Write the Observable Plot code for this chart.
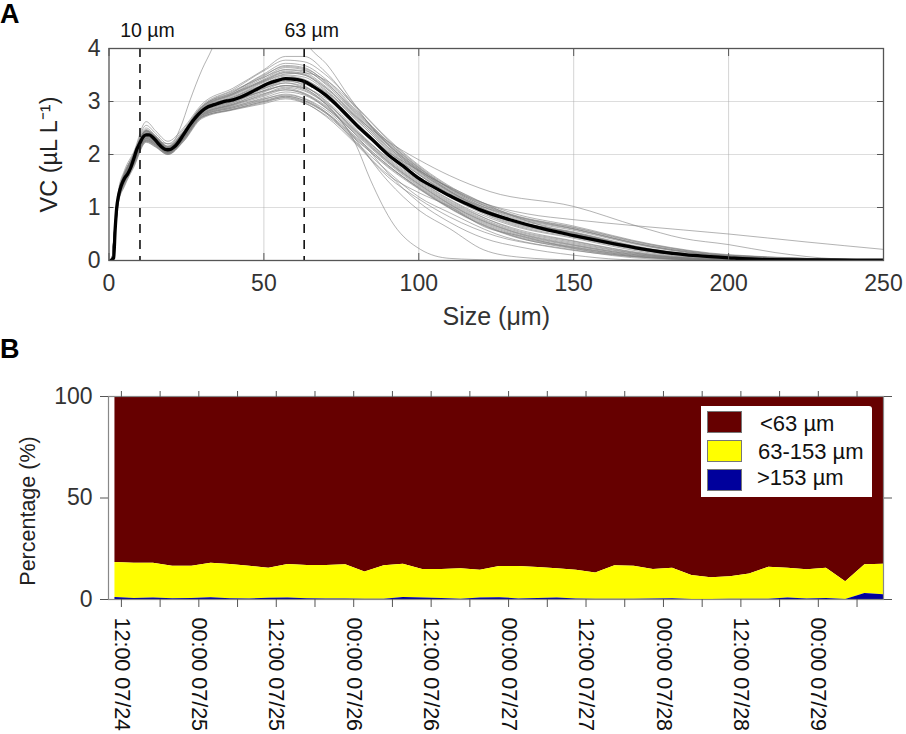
<!DOCTYPE html>
<html>
<head>
<meta charset="utf-8">
<script src="https://cdn.jsdelivr.net/npm/d3@7"></script>
<script src="https://cdn.jsdelivr.net/npm/@observablehq/plot@0.6"></script>
<style>
  html, body { margin: 0; padding: 0; background: #fff; }
  #page { position: relative; width: 906px; height: 734px; overflow: hidden; font-family: "Liberation Sans", sans-serif; }
  #page svg { display: block; position: absolute; left: 0; }
  #chart_a svg { top: 0; }
  #chart_b svg { top: 340px; }
  .panel { position: absolute; left: 0; font-weight: bold; font-size: 27px; line-height: 27px; color: #000; }
  #legend { position: absolute; left: 701px; top: 406px; width: 171px; height: 91px; background: #fff; border-radius: 0 3px 0 0; }
  #legend i { position: absolute; left: 6px; width: 35px; height: 22px; box-sizing: border-box; border: 1px solid #777; }
  #legend span { position: absolute; font-size: 22px; line-height: 24px; color: #111; white-space: nowrap; }
</style>
</head>
<body>
<div id="page">
  <div id="chart_a"></div>
  <div id="chart_b"></div>
  <div class="panel" style="top:1px">A</div>
  <div class="panel" style="top:336px">B</div>
  <div id="legend"></div>
</div>
<script>
// Panel A: spectra sizes (um)
const gridSizes = [1, 2, 3, 5, 8, 12, 15, 19, 24, 30, 40, 50, 57, 63, 70, 80, 90, 100, 115, 130, 150, 175, 200, 250];

// mean spectrum (thick black line)
const meanSizes = [0.5, 1.5, 2, 2.5, 3, 4, 5, 6, 7, 8, 9, 10, 11, 12, 13, 14, 15, 16, 17, 18, 19, 20, 21, 22, 24, 26, 28, 30, 32, 34, 36, 38, 40, 42, 45, 48, 51, 54, 57, 60, 63, 66, 70, 75, 80, 85, 90, 95, 100, 105, 110, 115, 120, 130, 140, 150, 160, 170, 180, 190, 200, 210, 225, 250];
const meanVC = [0, 0.05, 0.6, 1.0, 1.2, 1.42, 1.55, 1.63, 1.75, 1.92, 2.1, 2.22, 2.33, 2.37, 2.37, 2.33, 2.27, 2.2, 2.14, 2.1, 2.09, 2.1, 2.14, 2.2, 2.37, 2.55, 2.7, 2.82, 2.9, 2.94, 2.98, 3.01, 3.03, 3.07, 3.15, 3.24, 3.33, 3.39, 3.43, 3.42, 3.38, 3.28, 3.12, 2.85, 2.55, 2.28, 2.0, 1.78, 1.55, 1.38, 1.22, 1.08, 0.95, 0.76, 0.6, 0.47, 0.35, 0.24, 0.15, 0.09, 0.05, 0.02, 0.01, 0.005];

// individual spectra (thin grey lines), one row per sample on gridSizes
const spectra = [
  [0, .7, 1.3, 1.7, 2.05, 2.62, 2.45, 2.25, 2.5, 2.95, 3.25, 3.6, 3.85, 3.85, 3.55, 2.85, 2.2, 1.72, 1.15, .85, .6, .27, .09, .01],
  [0, .65, 1.28, 1.65, 2.02, 2.55, 2.4, 2.2, 2.47, 2.92, 3.22, 3.58, 3.78, 3.75, 3.5, 2.9, 2.3, 1.8, 1.24, .9, .65, .31, .11, .01],
  [0, .62, 1.25, 1.62, 2.0, 2.5, 2.36, 2.16, 2.44, 2.9, 3.18, 3.52, 3.72, 3.68, 3.42, 2.82, 2.25, 1.76, 1.2, .86, .62, .29, .1, .01],
  [0, .6, 1.22, 1.6, 1.98, 2.46, 2.34, 2.14, 2.42, 2.88, 3.15, 3.48, 3.68, 3.64, 3.36, 2.76, 2.2, 1.72, 1.17, .8, .57, .25, .08, .01],
  [0, .64, 1.26, 1.6, 1.97, 2.44, 2.33, 2.13, 2.41, 2.87, 3.14, 3.45, 3.64, 3.6, 3.32, 2.74, 2.15, 1.68, 1.13, .75, .52, .2, .06, .01],
  [0, .58, 1.2, 1.58, 1.95, 2.42, 2.32, 2.12, 2.4, 2.85, 3.12, 3.42, 3.6, 3.58, 3.34, 2.78, 2.22, 1.74, 1.2, .84, .6, .27, .09, .01],
  [0, .6, 1.24, 1.58, 1.94, 2.41, 2.3, 2.11, 2.39, 2.84, 3.1, 3.4, 3.57, 3.52, 3.26, 2.7, 2.12, 1.66, 1.12, .76, .53, .21, .06, .01],
  [0, .62, 1.22, 1.56, 1.93, 2.4, 2.3, 2.1, 2.38, 2.86, 3.08, 3.38, 3.54, 3.5, 3.22, 2.66, 2.08, 1.62, 1.1, .74, .5, .19, .05, .01],
  [0, .57, 1.2, 1.56, 1.93, 2.38, 2.28, 2.1, 2.38, 2.83, 3.06, 3.36, 3.5, 3.46, 3.2, 2.68, 2.14, 1.68, 1.14, .77, .54, .22, .07, .01],
  [0, .6, 1.2, 1.55, 1.92, 2.39, 2.29, 2.09, 2.37, 2.85, 3.05, 3.33, 3.48, 3.42, 3.16, 2.6, 2.04, 1.58, 1.06, .7, .47, .17, .04, .01],
  [0, .59, 1.18, 1.54, 1.9, 2.36, 2.27, 2.08, 2.36, 2.82, 3.04, 3.3, 3.45, 3.4, 3.18, 2.64, 2.1, 1.64, 1.1, .73, .5, .19, .05, .01],
  [0, .6, 1.2, 1.54, 1.9, 2.35, 2.26, 2.08, 2.35, 2.81, 3.0, 3.28, 3.42, 3.36, 3.08, 2.52, 1.98, 1.52, 1.0, .66, .42, .14, .03, .005],
  [0, .56, 1.17, 1.52, 1.88, 2.33, 2.24, 2.06, 2.34, 2.8, 2.98, 3.24, 3.38, 3.33, 3.1, 2.56, 2.02, 1.56, 1.04, .68, .44, .16, .04, .005],
  [0, .58, 1.18, 1.52, 1.88, 2.32, 2.23, 2.06, 2.33, 2.78, 2.97, 3.21, 3.35, 3.28, 3.02, 2.46, 1.92, 1.48, .96, .62, .37, .12, .03, .005],
  [0, .57, 1.15, 1.5, 1.86, 2.31, 2.22, 2.05, 2.32, 2.76, 2.95, 3.18, 3.3, 3.24, 2.98, 2.44, 1.9, 1.46, .94, .58, .34, .1, .02, .005],
  [0, .55, 1.16, 1.5, 1.85, 2.3, 2.2, 2.04, 2.31, 2.77, 2.93, 3.14, 3.27, 3.2, 2.96, 2.42, 1.94, 1.5, .98, .6, .36, .11, .02, .005],
  [0, .56, 1.14, 1.48, 1.84, 2.28, 2.2, 2.03, 2.3, 2.74, 2.92, 3.1, 3.22, 3.14, 2.9, 2.38, 1.86, 1.42, .9, .55, .3, .09, .02, .005],
  [0, .54, 1.13, 1.47, 1.82, 2.27, 2.18, 2.03, 2.28, 2.72, 2.9, 3.07, 3.18, 3.12, 2.88, 2.36, 1.84, 1.4, .88, .52, .28, .08, .02, .005],
  [0, .55, 1.12, 1.46, 1.82, 2.26, 2.18, 2.02, 2.28, 2.74, 2.88, 3.04, 3.14, 3.06, 2.84, 2.32, 1.8, 1.38, .86, .5, .26, .07, .01, .005],
  [0, .53, 1.1, 1.44, 1.8, 2.25, 2.16, 2.01, 2.26, 2.7, 2.86, 3.0, 3.1, 3.02, 2.8, 2.3, 1.8, 1.36, .84, .48, .25, .06, .01, .005],
  [0, .54, 1.1, 1.42, 1.78, 2.24, 2.15, 2.0, 2.25, 2.71, 2.85, 2.98, 3.08, 3.0, 2.78, 2.28, 1.76, 1.35, .82, .46, .24, .06, .01, .005],
  [0, .52, 1.08, 1.4, 1.76, 2.23, 2.14, 2.0, 2.24, 2.68, 2.84, 2.96, 3.05, 2.97, 2.74, 2.26, 1.78, 1.37, .83, .47, .22, .05, .01, .005],
  [0, .6, 1.2, 1.56, 1.92, 2.38, 2.27, 2.08, 2.38, 2.8, 3.02, 3.2, 3.3, 3.26, 3.06, 2.58, 2.06, 1.62, 1.08, .72, .48, .18, .05, .01],
  [0, .63, 1.25, 1.6, 1.96, 2.43, 2.32, 2.12, 2.42, 2.89, 3.2, 3.46, 3.6, 3.55, 3.28, 2.72, 2.18, 1.7, 1.15, .77, .52, .2, .06, .01],
  [0, .61, 1.23, 1.59, 1.95, 2.44, 2.33, 2.13, 2.4, 2.86, 3.13, 3.38, 3.52, 3.54, 3.4, 2.88, 2.28, 1.78, 1.22, .87, .63, .3, .1, .01],
  [0, .58, 1.18, 1.53, 1.89, 2.34, 2.25, 2.07, 2.36, 2.82, 3.02, 3.26, 3.4, 3.3, 3.0, 2.42, 1.88, 1.44, .92, .56, .32, .1, .02, .005],
  [0, .56, 1.15, 1.49, 1.85, 2.3, 2.21, 2.04, 2.3, 2.75, 2.94, 3.12, 3.25, 3.16, 2.92, 2.4, 1.87, 1.44, .9, .54, .29, .08, .02, .005],
  [0, .62, 1.24, 1.6, 1.96, 2.47, 2.35, 2.15, 2.43, 2.9, 3.17, 3.5, 3.66, 3.62, 3.38, 2.8, 2.24, 1.75, 1.18, .82, .59, .26, .08, .01]
];

// odd samples that leave the main band, each with its own size list
const oddSizes = [
  [1, 3, 8, 12, 16, 20, 23, 26, 30, 33.3, 36, 45, 58, 65, 70, 78, 85, 100, 115, 130, 150, 175, 200, 250],
  [1, 3, 8, 12, 19, 30, 40, 50, 57, 63, 70, 79.6, 84.4, 92, 100.5, 110, 125, 140],
  [1, 3, 8, 12, 19, 30, 40, 50, 57, 63, 70, 78, 90, 100, 110, 121, 133, 150],
  [1, 3, 8, 12, 19, 30, 40, 50, 57, 63, 70, 80, 90, 100, 110, 121, 133, 150, 165, 180],
  [1, 3, 8, 12, 19, 30, 40, 50, 57, 63, 70, 80, 90, 100, 110, 123, 150, 171, 185, 200, 215, 235, 250],
  [1, 3, 8, 12, 19, 30, 40, 50, 57, 63, 70, 80, 90, 100, 120, 135, 150, 171, 200, 225, 250],
  [1, 3, 8, 12, 19, 30, 40, 50, 57, 63, 70, 80, 90, 100, 110, 125, 150, 175, 200],
  [1, 3, 8, 12, 19, 30, 40, 50, 57, 63, 70, 80, 90, 100, 110, 121, 133, 150, 175, 200],
  [1, 3, 8, 12, 19, 30, 40, 50, 57, 63, 70, 80, 90, 100, 110, 125, 140, 160, 185]
];
const oddVC = [
  [0, 1.2, 2.0, 2.45, 2.25, 2.2, 2.5, 3.0, 3.6, 4.0, 4.4, 4.9, 4.7, 4.0, 3.72, 3.05, 2.5, 1.7, 1.25, .85, .5, .2, .05, .005],
  [0, 1.2, 1.95, 2.38, 2.1, 2.85, 3.05, 3.25, 3.35, 3.25, 2.95, 2.2, 1.52, .67, .21, .04, .01, 0],
  [0, 1.2, 1.9, 2.35, 2.08, 2.8, 3.0, 3.2, 3.3, 3.22, 2.95, 2.4, 1.5, .95, .6, .2, .06, .01],
  [0, 1.18, 1.9, 2.33, 2.06, 2.78, 2.95, 3.15, 3.22, 3.15, 2.88, 2.35, 1.65, 1.1, .72, .42, .25, .1, .02, 0],
  [0, 1.25, 2.0, 2.45, 2.15, 2.9, 3.15, 3.4, 3.55, 3.5, 3.25, 2.7, 2.25, 1.9, 1.6, 1.3, 1.02, .64, .42, .3, .15, .03, .01],
  [0, 1.22, 1.95, 2.4, 2.12, 2.85, 3.08, 3.32, 3.45, 3.38, 3.1, 2.5, 2.05, 1.7, 1.1, .88, .77, .65, .5, .35, .21],
  [0, 1.15, 1.85, 2.3, 2.05, 2.75, 2.9, 3.05, 3.12, 3.05, 2.8, 2.22, 1.68, 1.2, .9, .5, .2, .03, 0],
  [0, 1.16, 1.88, 2.28, 2.04, 2.72, 2.88, 3.02, 3.1, 3.02, 2.78, 2.2, 1.62, 1.28, 1.02, .64, .46, .23, .05, 0],
  [0, 1.14, 1.86, 2.26, 2.02, 2.7, 2.85, 3.0, 3.07, 2.98, 2.72, 2.18, 1.58, 1.16, .82, .46, .28, .12, .02]
];

const sizeTicks = [0, 50, 100, 150, 200, 250];
const vcTicks = [0, 1, 2, 3, 4];
const dashedSizes = [10, 63];
const dashedLabels = ["10 µm", "63 µm"];

// Panel B: sample time in hours after 12:00 07/24
const sampleHours = [-1, 1.98, 4.96, 7.94, 10.92, 13.9, 16.88, 19.86, 22.84, 25.82, 28.8, 31.78, 34.76, 37.74, 40.72, 43.7, 46.68, 49.66, 52.64, 55.62, 58.6, 61.58, 64.56, 67.54, 70.52, 73.5, 76.48, 79.46, 82.44, 85.42, 88.4, 91.38, 94.36, 97.34, 100.32, 103.3, 106.28, 109.26, 112.24, 115.22, 118.1];
// upper edge of the blue and the yellow band, in %
const topCoarse = [1.0, 0.5, 0.7, 0.4, 0.5, 0.9, 0.4, 0.3, 0.6, 0.7, 0.4, 0.3, 0.3, 0.1, 0.1, 1.0, 0.7, 0.5, 0.1, 0.7, 0.9, 0.3, 0.5, 0.8, 0.2, 0.1, 0.1, 0.1, 0.2, 0.4, 0, 0, 0.1, 0.1, 0.1, 0.7, 0.3, 0.5, 0, 2.9, 2.3];
const topMiddle = [18.2, 17.9, 17.9, 16.4, 16.4, 17.9, 17.2, 16.4, 15.4, 17.2, 16.7, 16.7, 17.1, 13.6, 16.6, 17.4, 14.8, 14.8, 15.1, 14.4, 16.3, 16.3, 15.8, 15.1, 14.4, 13.0, 16.6, 16.4, 14.8, 15.4, 11.8, 10.7, 11.2, 12.6, 15.9, 15.4, 14.6, 15.4, 8.7, 17.1, 17.4];

const hourTicks = [0, 6, 12, 18, 24, 30, 36, 42, 48, 54, 60, 66, 72, 78, 84, 90, 96, 102, 108, 114];
const labelHours = [0, 12, 24, 36, 48, 60, 72, 84, 96, 108];
const labelTexts = ["12:00 07/24", "00:00 07/25", "12:00 07/25", "00:00 07/26", "12:00 07/26", "00:00 07/27", "12:00 07/27", "00:00 07/28", "12:00 07/28", "00:00 07/29"];
const pctTicks = [0, 50, 100];

const legendNames = ["<63 µm", "63-153 µm", ">153 µm"];
const legendColors = ["#660000", "#ffff00", "#00009c"];

const gray = "#7d7d7d";
const axisColor = "#555";
const font = "'Liberation Sans', sans-serif";

// tidy tables
const greyRows = [];
spectra.forEach((row, i) => row.forEach((v, j) => greyRows.push({id: "s" + i, size: gridSizes[j], vc: v})));
oddVC.forEach((row, i) => row.forEach((v, j) => greyRows.push({id: "o" + i, size: oddSizes[i][j], vc: v})));
const meanRows = meanVC.map((v, i) => ({size: meanSizes[i], vc: v}));
const bands = sampleHours.map((h, i) => ({h: h, coarse: topCoarse[i], middle: topMiddle[i]}));

let chartA = Plot.plot({
  width: 906,
  height: 340,
  marginLeft: 108.5,
  marginRight: 23,
  marginTop: 48,
  marginBottom: 80,
  style: {fontFamily: font, fontSize: "23px", color: "#333", background: "transparent"},
  x: {domain: [0, 250]},
  y: {domain: [0, 4]},
  marks: [
    Plot.gridX(sizeTicks.slice(1, -1), {stroke: "#aaa", strokeOpacity: 0.5}),
    Plot.gridY(vcTicks.slice(1, -1), {stroke: "#aaa", strokeOpacity: 0.4}),
    Plot.line(greyRows, {x: "size", y: "vc", z: "id", stroke: gray, strokeWidth: 0.9, strokeOpacity: 0.65, curve: "monotone-x", clip: true}),
    Plot.line(meanRows, {x: "size", y: "vc", stroke: "#000", strokeWidth: 3.3, curve: "monotone-x", clip: true}),
    Plot.ruleX(dashedSizes, {stroke: "#111", strokeWidth: 1.6, strokeDasharray: "9 7"}),
    Plot.text(dashedSizes, {x: d => d, frameAnchor: "top", lineAnchor: "middle", dy: -18, dx: 7.5, text: (d, i) => dashedLabels[i], fontSize: 19.5, fill: "#111"}),
    Plot.frame({stroke: axisColor, strokeWidth: 1.3}),
    Plot.axisX({ticks: sizeTicks, tickSize: -7, tickPadding: 21, stroke: axisColor, label: null}),
    Plot.axisX({anchor: "top", ticks: sizeTicks, tickSize: -7, tickFormat: () => "", label: null, stroke: axisColor}),
    Plot.axisY({ticks: vcTicks, tickFormat: "d", tickSize: -5, tickPadding: 13.5, stroke: axisColor, label: null}),
    Plot.axisY({anchor: "right", ticks: vcTicks, tickSize: -7, tickFormat: () => "", label: null, stroke: axisColor}),
    Plot.text(["Size (μm)"], {frameAnchor: "bottom", lineAnchor: "middle", dy: 56, fontSize: 25, fill: "#333"}),
    Plot.text(["VC (µL L⁻¹)"], {frameAnchor: "left", textAnchor: "middle", rotate: -90, dx: -60, fontSize: 23.5, fill: "#222"})
  ]
});

let chartB = Plot.plot({
  width: 906,
  height: 394,
  marginLeft: 108,
  marginRight: 23,
  marginTop: 56,
  marginBottom: 135,
  style: {fontFamily: font, fontSize: "23px", color: "#333", background: "transparent"},
  x: {domain: [-2, 118.1]},
  y: {domain: [0, 100]},
  marks: [
    Plot.areaY(bands, {x: "h", y1: "middle", y2: () => 100, fill: legendColors[0]}),
    Plot.areaY(bands, {x: "h", y1: "coarse", y2: "middle", fill: legendColors[1]}),
    Plot.areaY(bands, {x: "h", y1: () => 0, y2: "coarse", fill: legendColors[2]}),
    Plot.frame({stroke: "#888", strokeWidth: 1.2}),
    Plot.axisX({ticks: hourTicks, tickSize: 8, tickFormat: () => "", label: null, stroke: axisColor}),
    Plot.axisX({anchor: "top", ticks: hourTicks, tickSize: 6, tickFormat: () => "", label: null, stroke: axisColor}),
    Plot.axisY({ticks: pctTicks, tickSize: 8, tickPadding: 8, label: null, stroke: axisColor}),
    Plot.axisY({anchor: "right", ticks: pctTicks, tickSize: 8, tickFormat: () => "", label: null, stroke: axisColor}),
    Plot.text(labelHours, {x: d => d, frameAnchor: "bottom", dy: 18, text: (d, i) => labelTexts[i], rotate: 90, textAnchor: "start", lineAnchor: "middle", fontSize: 21.5, fill: "#111"}),
    Plot.text(["Percentage (%)"], {frameAnchor: "left", textAnchor: "middle", rotate: -90, dx: -80, dy: 13, fontSize: 21.5, fill: "#222"})
  ]
});

d3.select("#chart_a").append(() => chartA);
d3.select("#chart_b").append(() => chartB);

// legend sits inside panel B, on top of the maroon band
const legend = d3.select("#legend");
const swatchTops = [5, 34, 63];
const textSpots = [[59, 6], [57, 34], [56, 60]];
legendNames.forEach((name, i) => {
  legend.append("i").style("top", swatchTops[i] + "px").style("background", legendColors[i]);
  legend.append("span").style("left", textSpots[i][0] + "px").style("top", textSpots[i][1] + "px").text(name);
});
</script>
</body>
</html>
